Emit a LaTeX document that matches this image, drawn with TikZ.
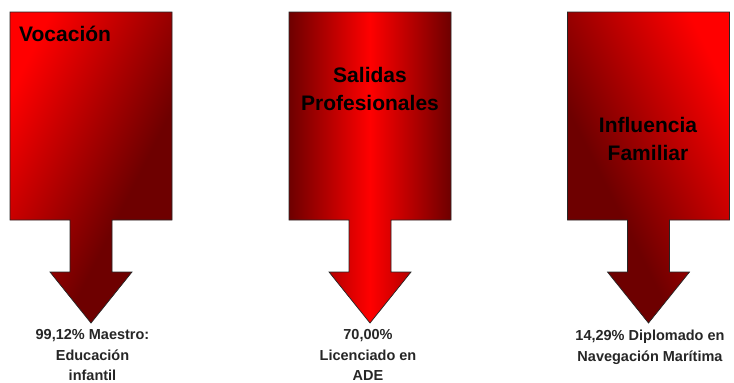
\documentclass[tikz,border=0pt]{standalone}
\usepackage{fontspec}
\setmainfont{Liberation Sans}
\definecolor{darkred}{HTML}{6E0000}
\definecolor{brightred}{HTML}{FF0000}
\pgfdeclarehorizontalshading{diagred}{100bp}{color(0bp)=(brightred); color(25bp)=(brightred); color(61bp)=(darkred); color(100bp)=(darkred)}
\tikzset{
  callout/.style={draw=black!85, line width=0.7pt, line join=miter},
  title/.style={inner sep=0pt, font=\bfseries\fontsize{21}{27.5}\selectfont, text=black, align=center},
  result/.style={inner sep=0pt, font=\bfseries\fontsize{14.5}{20.5}\selectfont, text=black!85, align=center},
}
\newcommand{\downcallout}[2]{%
  \path[callout,#2] (#1,12) -- ++(162,0) -- ++(0,208) -- ++(-60,0) -- ++(0,52)
    -- ++(20,0) -- ++(-41,51) -- ++(-41,-51) -- ++(20,0) -- ++(0,-52) -- ++(-60,0) -- cycle;}
\begin{document}
\begin{tikzpicture}[x=1pt,y=-1pt]
\useasboundingbox (0,0) rectangle (734,383);
\downcallout{10}{shading=diagred, shading angle=-26.57}
\downcallout{289}{left color=darkred, right color=darkred, middle color=brightred}
\downcallout{567.5}{shading=diagred, shading angle=206.57}
\node[title, anchor=base west] (t1) at (19,41) {Vocación};
\node[title, anchor=base] (t2) at (370,110) {Salidas\\Profesionales};
\node[title, anchor=base] (t3) at (648,160) {Influencia\\Familiar};
\node[result, anchor=base] (r1) at (92.5,380.5) {99,12\% Maestro:\\Educación\\infantil};
\node[result, anchor=base] (r2) at (368,380.5) {70,00\%\\Licenciado en\\ADE};
\node[result, anchor=base] (r3) at (650,361) {14,29\% Diplomado en\\Navegación Marítima};
\end{tikzpicture}
\end{document}
